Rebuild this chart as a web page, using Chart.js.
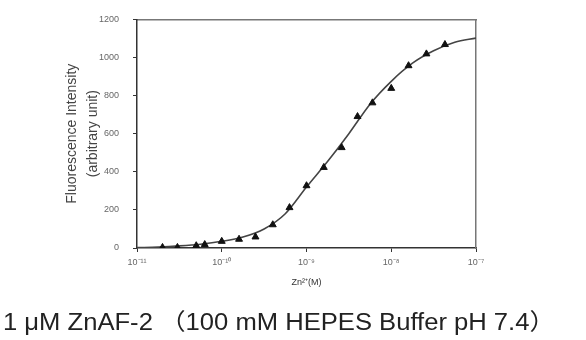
<!DOCTYPE html>
<html>
<head>
<meta charset="utf-8">
<script src="https://cdn.jsdelivr.net/npm/chart.js@4/dist/chart.umd.min.js"></script>
<style>
  html, body { margin: 0; padding: 0; background: #fff; }
  #wrap { position: relative; width: 586px; height: 340px; }
  #caption {
    position: absolute; left: 3px; top: 303px; white-space: nowrap;
    font-family: "Liberation Sans", "Noto Sans CJK JP", sans-serif;
    font-size: 23px; color: #222; transform-origin: 0 0;
  }
</style>
</head>
<body>
<div id="wrap">
  <canvas id="chart" width="586" height="340"></canvas>
  <div id="caption"></div>
</div>
<script>
// ─── Data ─────────────────────────────────────────────────────────────────────
const zinc      = [2e-11, 3e-11, 5e-11, 6.3e-11, 1e-10, 1.6e-10, 2.5e-10, 4e-10, 6.3e-10,
                   1e-9, 1.6e-9, 2.6e-9, 4e-9, 6e-9, 1e-8, 1.6e-8, 2.6e-8, 4.3e-8];
const intensity = [3, 3, 12, 18, 35, 46, 58, 122, 212,
                   327, 423, 527, 690, 762, 838, 957, 1019, 1068];

// fitted curve
const fitX = [1e-11, 1.78e-11, 3.16e-11, 5.62e-11, 1e-10, 1.78e-10, 3.16e-10, 5.62e-10, 1e-9,
              1.78e-9, 3.16e-9, 5.62e-9, 1e-8, 1.78e-8, 3.16e-8, 5.62e-8, 1e-7];
const fitY = [2, 5, 11, 20, 35, 58, 100, 180, 320,
              455, 600, 755, 875, 970, 1035, 1080, 1102];

const xTicks   = [1e-11, 1e-10, 1e-9, 1e-8, 1e-7];
const xLabels  = ["10⁻¹¹", "10⁻¹⁰", "10⁻⁹", "10⁻⁸", "10⁻⁷"];
const yTicks   = [0, 200, 400, 600, 800, 1000, 1200];

const caption = "1 μM ZnAF-2 （100 mM HEPES Buffer pH 7.4）";

// ─── Caption (stretched to the width in the picture) ──────────────────────────
const cap = document.getElementById("caption");
cap.textContent = caption;
cap.style.transform = "scaleX(" + (552 / cap.offsetWidth).toFixed(3) + ")";

// ─── Chart ────────────────────────────────────────────────────────────────────
const axisGrey = "#666";
const tickFont = { family: "Liberation Sans, Arial, sans-serif", size: 9 };

new Chart(document.getElementById("chart"), {
  type: "line",
  data: {
    datasets: [
      {
        label: "fit",
        data: fitX.map((x, i) => ({ x, y: fitY[i] })),
        borderColor: "#444",
        borderWidth: 1.6,
        pointRadius: 0,
        cubicInterpolationMode: "monotone",
        order: 2
      },
      {
        label: "ZnAF-2",
        data: zinc.map((x, i) => ({ x, y: intensity[i] })),
        showLine: false,
        pointStyle: "triangle",
        pointRadius: 4,
        backgroundColor: "#111",
        borderColor: "#111",
        borderWidth: 1,
        order: 1
      }
    ]
  },
  options: {
    responsive: false,
    animation: false,
    layout: { padding: { left: 0, right: 110, top: 17, bottom: 30 } },
    plugins: {
      legend: { display: false },
      tooltip: { enabled: false }
    },
    scales: {
      x: {
        type: "logarithmic",
        min: 1e-11,
        max: 1e-7,
        afterBuildTicks: axis => { axis.ticks = xTicks.map(v => ({ value: v })); },
        afterFit: scale => { scale.height = 62; },
        ticks: {
          color: axisGrey,
          font: tickFont,
          padding: 5,
          maxRotation: 0,
          autoSkip: false,
          callback: (v, i) => xLabels[i]
        },
        grid: { display: true, drawOnChartArea: false, drawTicks: true, tickLength: 4, color: "#333" },
        border: { display: true, color: "#333", width: 1.5 },
        title: {
          display: true,
          text: "Zn²⁺(M)",
          color: "#333",
          font: { family: "Liberation Sans, Arial, sans-serif", size: 9 },
          padding: { top: 0, bottom: 22 }
        }
      },
      x2: {
        type: "logarithmic",
        position: "top",
        min: 1e-11,
        max: 1e-7,
        ticks: { display: false },
        grid: { display: false, drawTicks: false },
        border: { display: true, color: "#777", width: 1.5 }
      },
      y: {
        min: 0,
        max: 1200,
        afterBuildTicks: axis => { axis.ticks = yTicks.map(v => ({ value: v })); },
        afterFit: scale => { scale.width = 137; },
        ticks: {
          color: axisGrey,
          font: tickFont,
          padding: 14,
          callback: v => String(v)
        },
        grid: { display: true, drawOnChartArea: false, drawTicks: true, tickLength: 4, color: "#333" },
        border: { display: true, color: "#333", width: 1.5 },
        title: {
          display: true,
          text: ["Fluorescence Intensity", "(arbitrary unit)"],
          color: "#444",
          font: { family: "Liberation Sans, Arial, sans-serif", size: 14, lineHeight: 1.55 },
          padding: { top: 61, bottom: 0 }
        }
      },
      y2: {
        position: "right",
        min: 0,
        max: 1200,
        ticks: { display: false },
        grid: { display: false, drawTicks: false },
        border: { display: true, color: "#777", width: 1.5 }
      }
    }
  }
});
</script>
</body>
</html>
